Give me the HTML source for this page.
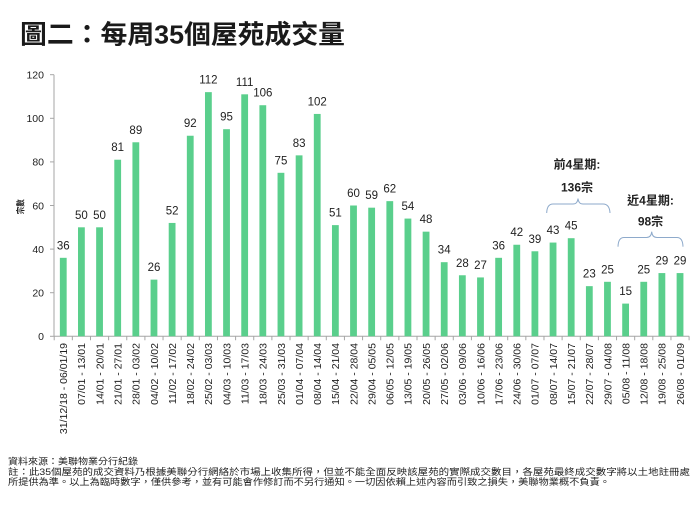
<!DOCTYPE html>
<html>
<head>
<meta charset="utf-8">
<style>
html,body{margin:0;padding:0;background:#fff;}
svg{display:block;}
text{font-family:"Liberation Sans","Noto Sans CJK TC",sans-serif;}
</style>
</head>
<body>
<svg width="700" height="525" viewBox="0 0 700 525" xmlns="http://www.w3.org/2000/svg">
<rect width="700" height="525" fill="#fff"/>
<!-- Title -->
<text x="20" y="43.5" font-size="26" font-weight="bold" fill="#1a1a1a" textLength="325" lengthAdjust="spacingAndGlyphs">圖二：每周35個屋苑成交量</text>

<!-- Axis title -->
<text transform="translate(23.5,206.7) rotate(-90)" font-size="8.5" font-weight="bold" fill="#222" text-anchor="middle" textLength="15" lengthAdjust="spacingAndGlyphs">宗數</text>

<!-- Y tick labels -->
<g font-size="10.5" fill="#222" text-anchor="end">
<text x="44" y="340.1">0</text>
<text x="44" y="296.5">20</text>
<text x="44" y="252.9">40</text>
<text x="44" y="209.3">60</text>
<text x="44" y="165.7">80</text>
<text x="44" y="122.1">100</text>
<text x="44" y="78.5">120</text>
</g>

<!-- Axes -->
<g stroke="#a6a6a6" stroke-width="1" fill="none">
<line x1="54" y1="74.7" x2="54" y2="336.3"/>
<line x1="54" y1="336.3" x2="689.2" y2="336.3"/>
<line x1="50" y1="74.7" x2="54" y2="74.7"/>
<line x1="50" y1="118.3" x2="54" y2="118.3"/>
<line x1="50" y1="161.9" x2="54" y2="161.9"/>
<line x1="50" y1="205.5" x2="54" y2="205.5"/>
<line x1="50" y1="249.1" x2="54" y2="249.1"/>
<line x1="50" y1="292.7" x2="54" y2="292.7"/>
<line x1="50" y1="336.3" x2="54" y2="336.3"/>
<path d="M54.2 336.3v4 M72.34 336.3v4 M90.48 336.3v4 M108.62 336.3v4 M126.76 336.3v4 M144.9 336.3v4 M163.04 336.3v4 M181.18 336.3v4 M199.32 336.3v4 M217.46 336.3v4 M235.6 336.3v4 M253.74 336.3v4 M271.88 336.3v4 M290.02 336.3v4 M308.16 336.3v4 M326.3 336.3v4 M344.44 336.3v4 M362.58 336.3v4 M380.72 336.3v4 M398.86 336.3v4 M417 336.3v4 M435.14 336.3v4 M453.28 336.3v4 M471.42 336.3v4 M489.56 336.3v4 M507.7 336.3v4 M525.84 336.3v4 M543.98 336.3v4 M562.12 336.3v4 M580.26 336.3v4 M598.4 336.3v4 M616.54 336.3v4 M634.68 336.3v4 M652.82 336.3v4 M670.96 336.3v4 M689.1 336.3v4"/>
</g>

<!-- Bars -->
<g fill="#5acf8c">
<rect x="59.87" y="257.82" width="6.8" height="78.48"/>
<rect x="78.01" y="227.3" width="6.8" height="109"/>
<rect x="96.15" y="227.3" width="6.8" height="109"/>
<rect x="114.29" y="159.72" width="6.8" height="176.58"/>
<rect x="132.43" y="142.28" width="6.8" height="194.02"/>
<rect x="150.57" y="279.62" width="6.8" height="56.68"/>
<rect x="168.71" y="222.94" width="6.8" height="113.36"/>
<rect x="186.85" y="135.74" width="6.8" height="200.56"/>
<rect x="204.99" y="92.14" width="6.8" height="244.16"/>
<rect x="223.13" y="129.2" width="6.8" height="207.1"/>
<rect x="241.27" y="94.32" width="6.8" height="241.98"/>
<rect x="259.41" y="105.22" width="6.8" height="231.08"/>
<rect x="277.55" y="172.8" width="6.8" height="163.5"/>
<rect x="295.69" y="155.36" width="6.8" height="180.94"/>
<rect x="313.83" y="113.94" width="6.8" height="222.36"/>
<rect x="331.97" y="225.12" width="6.8" height="111.18"/>
<rect x="350.11" y="205.5" width="6.8" height="130.8"/>
<rect x="368.25" y="207.68" width="6.8" height="128.62"/>
<rect x="386.39" y="201.14" width="6.8" height="135.16"/>
<rect x="404.53" y="218.58" width="6.8" height="117.72"/>
<rect x="422.67" y="231.66" width="6.8" height="104.64"/>
<rect x="440.81" y="262.18" width="6.8" height="74.12"/>
<rect x="458.95" y="275.26" width="6.8" height="61.04"/>
<rect x="477.09" y="277.44" width="6.8" height="58.86"/>
<rect x="495.23" y="257.82" width="6.8" height="78.48"/>
<rect x="513.37" y="244.74" width="6.8" height="91.56"/>
<rect x="531.51" y="251.28" width="6.8" height="85.02"/>
<rect x="549.65" y="242.56" width="6.8" height="93.74"/>
<rect x="567.79" y="238.2" width="6.8" height="98.1"/>
<rect x="585.93" y="286.16" width="6.8" height="50.14"/>
<rect x="604.07" y="281.8" width="6.8" height="54.5"/>
<rect x="622.21" y="303.6" width="6.8" height="32.7"/>
<rect x="640.35" y="281.8" width="6.8" height="54.5"/>
<rect x="658.49" y="273.08" width="6.8" height="63.22"/>
<rect x="676.63" y="273.08" width="6.8" height="63.22"/>
</g>

<!-- Value labels -->
<g font-size="11.5" fill="#222" text-anchor="middle">
<text x="63.27" y="249.3">36</text>
<text x="81.41" y="218.8">50</text>
<text x="99.55" y="218.8">50</text>
<text x="117.69" y="151.2">81</text>
<text x="135.83" y="133.8">89</text>
<text x="153.97" y="271.1">26</text>
<text x="172.11" y="214.4">52</text>
<text x="190.25" y="127.2">92</text>
<text x="208.39" y="83.6">112</text>
<text x="226.53" y="120.7">95</text>
<text x="244.67" y="85.8">111</text>
<text x="262.81" y="96.7">106</text>
<text x="280.95" y="164.3">75</text>
<text x="299.09" y="146.9">83</text>
<text x="317.23" y="105.4">102</text>
<text x="335.37" y="216.6">51</text>
<text x="353.51" y="197">60</text>
<text x="371.65" y="199.2">59</text>
<text x="389.79" y="192.6">62</text>
<text x="407.93" y="210.1">54</text>
<text x="426.07" y="223.2">48</text>
<text x="444.21" y="253.7">34</text>
<text x="462.35" y="266.8">28</text>
<text x="480.49" y="268.9">27</text>
<text x="498.63" y="249.3">36</text>
<text x="516.77" y="236.2">42</text>
<text x="534.91" y="242.8">39</text>
<text x="553.05" y="234.1">43</text>
<text x="571.19" y="229.7">45</text>
<text x="589.33" y="277.7">23</text>
<text x="607.47" y="273.3">25</text>
<text x="625.61" y="295.1">15</text>
<text x="643.75" y="273.3">25</text>
<text x="661.89" y="264.6">29</text>
<text x="680.03" y="264.6">29</text>
</g>

<!-- X labels -->
<g font-size="10.5" fill="#222" text-anchor="end">
<text transform="translate(67.07,343) rotate(-90)">31/12/18 - 06/01/19</text>
<text transform="translate(85.21,343) rotate(-90)">07/01 - 13/01</text>
<text transform="translate(103.35,343) rotate(-90)">14/01 - 20/01</text>
<text transform="translate(121.49,343) rotate(-90)">21/01 - 27/01</text>
<text transform="translate(139.63,343) rotate(-90)">28/01 - 03/02</text>
<text transform="translate(157.77,343) rotate(-90)">04/02 - 10/02</text>
<text transform="translate(175.91,343) rotate(-90)">11/02 - 17/02</text>
<text transform="translate(194.05,343) rotate(-90)">18/02 - 24/02</text>
<text transform="translate(212.19,343) rotate(-90)">25/02 - 03/03</text>
<text transform="translate(230.33,343) rotate(-90)">04/03 - 10/03</text>
<text transform="translate(248.47,343) rotate(-90)">11/03 - 17/03</text>
<text transform="translate(266.61,343) rotate(-90)">18/03 - 24/03</text>
<text transform="translate(284.75,343) rotate(-90)">25/03 - 31/03</text>
<text transform="translate(302.89,343) rotate(-90)">01/04 - 07/04</text>
<text transform="translate(321.03,343) rotate(-90)">08/04 - 14/04</text>
<text transform="translate(339.17,343) rotate(-90)">15/04 - 21/04</text>
<text transform="translate(357.31,343) rotate(-90)">22/04 - 28/04</text>
<text transform="translate(375.45,343) rotate(-90)">29/04 - 05/05</text>
<text transform="translate(393.59,343) rotate(-90)">06/05 - 12/05</text>
<text transform="translate(411.73,343) rotate(-90)">13/05 - 19/05</text>
<text transform="translate(429.87,343) rotate(-90)">20/05 - 26/05</text>
<text transform="translate(448.01,343) rotate(-90)">27/05 - 02/06</text>
<text transform="translate(466.15,343) rotate(-90)">03/06 - 09/06</text>
<text transform="translate(484.29,343) rotate(-90)">10/06 - 16/06</text>
<text transform="translate(502.43,343) rotate(-90)">17/06 - 23/06</text>
<text transform="translate(520.57,343) rotate(-90)">24/06 - 30/06</text>
<text transform="translate(538.71,343) rotate(-90)">01/07 - 07/07</text>
<text transform="translate(556.85,343) rotate(-90)">08/07 - 14/07</text>
<text transform="translate(574.99,343) rotate(-90)">15/07 - 21/07</text>
<text transform="translate(593.13,343) rotate(-90)">22/07 - 28/07</text>
<text transform="translate(611.27,343) rotate(-90)">29/07 - 04/08</text>
<text transform="translate(629.41,343) rotate(-90)">05/08 - 11/08</text>
<text transform="translate(647.55,343) rotate(-90)">12/08 - 18/08</text>
<text transform="translate(665.69,343) rotate(-90)">19/08 - 25/08</text>
<text transform="translate(683.83,343) rotate(-90)">26/08 - 01/09</text>
</g>

<!-- Annotations -->
<g font-size="12" font-weight="bold" fill="#222" text-anchor="middle">
<text x="577" y="168.3">前4星期:</text>
<text x="577" y="191.3">136宗</text>
<text x="650.5" y="204.5">近4星期:</text>
<text x="650.5" y="225.3">98宗</text>
</g>
<g stroke="#8eaacb" stroke-width="1" fill="none">
<path d="M546.7 213 Q547 204 553 204 L573 204 Q577.5 204 578 198.5 Q578.5 204 583 204 L603 204 Q609.5 204 610 213"/>
<path d="M618 246.7 Q618.3 237.5 624 237.5 L646.5 237.5 Q651.2 237.5 651.7 231.7 Q652.2 237.5 657 237.5 L677 237.5 Q682.7 237.5 683 246.7"/>
</g>

<!-- Footer -->
<g font-size="9.3" fill="#222">
<text x="8" y="464.5" textLength="130" lengthAdjust="spacingAndGlyphs">資料來源：美聯物業分行紀錄</text>
<text x="8" y="475" textLength="682" lengthAdjust="spacingAndGlyphs">註：此35個屋苑的成交資料乃根據美聯分行網絡於市場上收集所得，但並不能全面反映該屋苑的實際成交數目，各屋苑最終成交數字將以土地註冊處</text>
<text x="8" y="485.2" textLength="602" lengthAdjust="spacingAndGlyphs">所提供為準。以上為臨時數字，僅供參考，並有可能會作修訂而不另行通知。一切因依賴上述內容而引致之損失，美聯物業概不負責。</text>
</g>
</svg>
</body>
</html>
